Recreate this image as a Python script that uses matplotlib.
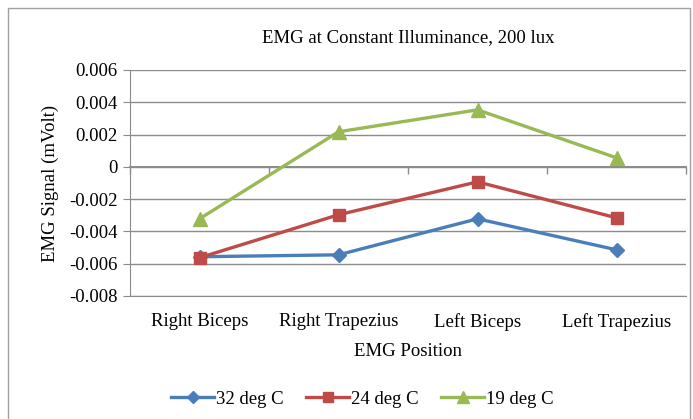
import matplotlib.pyplot as plt
from matplotlib.patches import Rectangle

plt.rcParams['font.family'] = ['Liberation Serif', 'DejaVu Serif']

positions = ['Right Biceps', 'Right Trapezius', 'Left Biceps', 'Left Trapezius']
temp_32 = [-0.00557, -0.00545, -0.00322, -0.00514]
temp_24 = [-0.00563, -0.00297, -0.00093, -0.00316]
temp_19 = [-0.00322, 0.00217, 0.00353, 0.00056]
yticks = [-0.008, -0.006, -0.004, -0.002, 0, 0.002, 0.004, 0.006]
ytick_labels = ['-0.008', '-0.006', '-0.004', '-0.002', '0', '0.002', '0.004', '0.006']

fs = 13.5

fig = plt.figure(figsize=(6.93, 4.19), dpi=100)
fig.patches.append(Rectangle((0.012, -0.05), 0.984, 1.031, transform=fig.transFigure,
                             fill=False, edgecolor='#a0a0a0', linewidth=1.0))
ax = fig.add_axes([0.1876, 0.2936, 0.8023, 0.5394])

x = range(len(positions))
ax.plot(x, temp_32, color='#4a7ebb', lw=2.4, marker='D', ms=7.5, label='32 deg C', zorder=3)
ax.plot(x, temp_24, color='#be4b48', lw=2.4, marker='s', ms=9, label='24 deg C', zorder=3)
ax.plot(x, temp_19, color='#98b954', lw=2.4, marker='^', ms=10, label='19 deg C', zorder=3)

ax.set_xlim(-0.5, 3.5)
ax.set_ylim(-0.008, 0.006)
ax.set_yticks(yticks)
ax.set_yticklabels(ytick_labels, fontsize=fs)
ax.yaxis.grid(True, color='#8c8c8c', lw=1.0)
ax.set_axisbelow(True)
ax.tick_params(axis='y', direction='out', length=5, color='#8c8c8c', pad=4)

ax.set_xticks(list(x))
ax.set_xticklabels(positions, fontsize=fs)
ax.tick_params(axis='x', length=0, pad=12)

for s in ['top', 'right']:
    ax.spines[s].set_visible(False)
ax.spines['bottom'].set_color('#8c8c8c')
ax.spines['left'].set_color('#8c8c8c')

# horizontal axis crosses at zero
zero_frac = (0 - (-0.008)) / (0.006 - (-0.008))
sec = ax.secondary_xaxis(zero_frac)
sec.set_xticks([-0.5, 0.5, 1.5, 2.5, 3.5])
sec.set_xticklabels([])
sec.tick_params(direction='in', length=5, color='#8c8c8c', width=1.0)
for s in sec.spines.values():
    s.set_color('#7f7f7f')
    s.set_linewidth(1.3)

ax.set_title('EMG at Constant Illuminance, 200 lux', fontsize=fs, pad=20)
ax.set_xlabel('EMG Position', fontsize=fs, labelpad=9)
ax.set_ylabel('EMG Signal (mVolt)', fontsize=fs, labelpad=7)

fig.legend(loc='center', bbox_to_anchor=(0.523, 0.047), ncol=3, frameon=False,
           fontsize=fs, handlelength=2.3, handletextpad=0.1, columnspacing=1.2,
           markerscale=0.85)

fig.savefig('out.png', dpi=100)
